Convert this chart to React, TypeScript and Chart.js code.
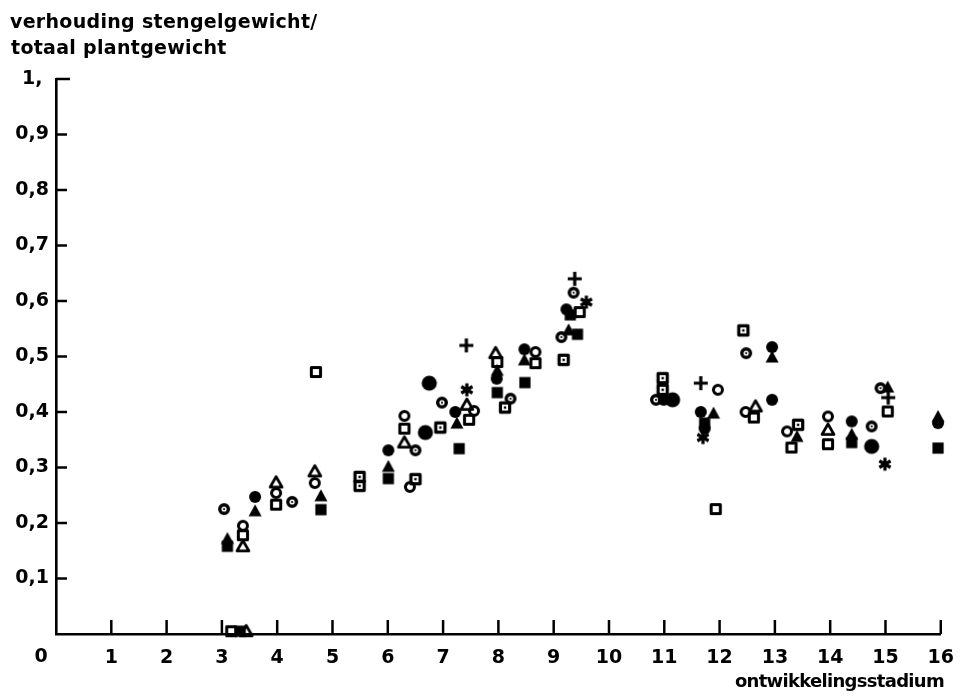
import React, { useEffect, useRef } from "react";
import { Chart, registerables } from "chart.js";

Chart.register(...registerables);

// ---- axis ticks ----
const xTickValues = [0, 1, 2, 3, 4, 5, 6, 7, 8, 9, 10, 11, 12, 13, 14, 15, 16];
const yTickValues = [0.1, 0.2, 0.3, 0.4, 0.5, 0.6, 0.7, 0.8, 0.9, 1.0];
const yTickLabels = ["0,1", "0,2", "0,3", "0,4", "0,5", "0,6", "0,7", "0,8", "0,9", "1, "];
const titleLines = ["verhouding stengelgewicht/", "totaal plantgewicht"];
const xTitle = "ontwikkelingsstadium";

// ---- series (x = ontwikkelingsstadium, y = ratio) ----
const openCircle = [[3.38, 0.195], [3.98, 0.254], [4.68, 0.272], [6.3, 0.393], [6.4, 0.265], [7.56, 0.402], [8.67, 0.508], [11.97, 0.44], [12.47, 0.4], [13.22, 0.365], [13.96, 0.392]];
const dotCircle = [[3.04, 0.225], [4.27, 0.238], [6.5, 0.331], [6.98, 0.417], [8.22, 0.424], [9.36, 0.615], [9.14, 0.535], [10.85, 0.422], [12.48, 0.506], [14.75, 0.374], [14.91, 0.443]];
const filledCircle = [[3.6, 0.247], [6.01, 0.331], [7.22, 0.4], [7.97, 0.46], [8.47, 0.513], [9.23, 0.585], [10.99, 0.422], [11.66, 0.4], [11.73, 0.37], [12.95, 0.517], [12.95, 0.422], [14.39, 0.383], [15.95, 0.38]];
const bigCircle = [[6.75, 0.452], [6.68, 0.363], [11.15, 0.422], [14.75, 0.338]];
const openTriangle = [[3.38, 0.158], [3.98, 0.273], [4.68, 0.293], [6.3, 0.345], [7.43, 0.413], [7.95, 0.506], [12.65, 0.41], [13.96, 0.368], [3.44, 0.005]];
const filledTriangle = [[3.1, 0.172], [3.6, 0.222], [4.79, 0.249], [6.01, 0.302], [7.25, 0.38], [7.98, 0.475], [8.47, 0.494], [9.27, 0.548], [11.89, 0.398], [12.95, 0.499], [13.4, 0.356], [14.39, 0.36], [15.04, 0.445], [15.95, 0.392]];
const openSquare = [[3.38, 0.178], [3.98, 0.233], [4.7, 0.472], [6.3, 0.37], [7.47, 0.386], [7.98, 0.49], [8.67, 0.488], [9.47, 0.58], [11.93, 0.225], [12.62, 0.39], [13.3, 0.336], [13.96, 0.342], [15.04, 0.401], [3.17, 0.005]];
const dotSquare = [[5.49, 0.283], [5.49, 0.267], [6.5, 0.279], [6.95, 0.372], [8.12, 0.408], [9.18, 0.494], [10.97, 0.461], [10.97, 0.44], [12.43, 0.547], [13.42, 0.377]];
const filledSquare = [[3.1, 0.158], [4.79, 0.224], [6.01, 0.28], [7.29, 0.334], [7.98, 0.435], [8.48, 0.453], [9.43, 0.54], [9.3, 0.575], [11.73, 0.38], [14.39, 0.345], [15.95, 0.335], [3.33, 0.005]];
const plusMark = [[7.42, 0.52], [9.38, 0.64], [11.66, 0.452], [15.05, 0.426]];
const starMark = [[7.43, 0.44], [9.59, 0.598], [11.7, 0.354], [14.99, 0.306]];

const FONT = "'DejaVu Sans', sans-serif";

function marker(kind: string): HTMLCanvasElement {
  const size = kind === "bigCircle" ? 20 : 18;
  const c = document.createElement("canvas");
  c.width = size;
  c.height = size;
  const g = c.getContext("2d")!;
  const m = size / 2;
  g.fillStyle = "#000";
  g.strokeStyle = "#000";
  g.lineWidth = 3;
  g.lineJoin = "round";
  g.beginPath();
  switch (kind) {
    case "openCircle":
      g.arc(m, m, 4.5, 0, Math.PI * 2);
      g.stroke();
      break;
    case "dotCircle":
      g.lineWidth = 3.4;
      g.arc(m, m, 4.3, 0, Math.PI * 2);
      g.stroke();
      g.beginPath();
      g.arc(m, m, 1.1, 0, Math.PI * 2);
      g.fill();
      break;
    case "filledCircle":
      g.arc(m, m, 6, 0, Math.PI * 2);
      g.fill();
      break;
    case "bigCircle":
      g.arc(m, m, 7.6, 0, Math.PI * 2);
      g.fill();
      break;
    case "openTriangle":
      g.lineWidth = 2.8;
      g.moveTo(m, m - 5.8);
      g.lineTo(m + 6, m + 4.6);
      g.lineTo(m - 6, m + 4.6);
      g.closePath();
      g.stroke();
      break;
    case "filledTriangle":
      g.moveTo(m, m - 6.6);
      g.lineTo(m + 6.5, m + 5.4);
      g.lineTo(m - 6.5, m + 5.4);
      g.closePath();
      g.fill();
      break;
    case "openSquare":
      g.strokeRect(m - 4.6, m - 4.6, 9.2, 9.2);
      break;
    case "dotSquare":
      g.lineWidth = 3.2;
      g.strokeRect(m - 4.6, m - 4.6, 9.2, 9.2);
      g.fillRect(m - 1.2, m - 1.2, 2.4, 2.4);
      break;
    case "filledSquare":
      g.fillRect(m - 5.6, m - 5.6, 11.2, 11.2);
      break;
    case "plus":
      g.lineWidth = 3.2;
      g.moveTo(m - 7, m);
      g.lineTo(m + 7, m);
      g.moveTo(m, m - 7);
      g.lineTo(m, m + 7);
      g.stroke();
      break;
    case "star":
      g.lineWidth = 3.2;
      for (let i = 0; i < 6; i++) {
        const a = (Math.PI / 3) * i + Math.PI / 2;
        g.moveTo(m, m);
        g.lineTo(m + Math.cos(a) * 6.5, m + Math.sin(a) * 6.5);
      }
      g.stroke();
      g.beginPath();
      g.arc(m, m, 3, 0, Math.PI * 2);
      g.fill();
      break;
  }
  return c;
}

const decorPlugin = {
  id: "decor",
  beforeDatasetsDraw(chart: any) {
    const { ctx, chartArea } = chart;
    const xs = chart.scales.x;
    const ys = chart.scales.y;
    ctx.save();
    ctx.strokeStyle = "#000";
    ctx.lineWidth = 2.5;
    xTickValues.forEach((v) => {
      if (v === 0) return;
      const px = xs.getPixelForValue(v);
      ctx.beginPath();
      ctx.moveTo(px, chartArea.bottom);
      ctx.lineTo(px, chartArea.bottom - 14);
      ctx.stroke();
    });
    yTickValues.forEach((v) => {
      const py = ys.getPixelForValue(v);
      ctx.beginPath();
      ctx.moveTo(chartArea.left, py);
      ctx.lineTo(chartArea.left + (v === 1 ? 14 : 11), py);
      ctx.stroke();
    });
    ctx.restore();
  },
  afterDraw(chart: any) {
    const { ctx } = chart;
    ctx.save();
    ctx.fillStyle = "#000";
    ctx.font = `bold 19px ${FONT}`;
    ctx.textBaseline = "alphabetic";
    ctx.textAlign = "left";
    (ctx as any).letterSpacing = "0.3px";
    ctx.fillText(titleLines[0], 10, 28);
    ctx.fillText(titleLines[1], 11, 54);
    (ctx as any).letterSpacing = "-0.7px";
    ctx.font = `bold 18px ${FONT}`;
    ctx.textAlign = "right";
    ctx.textBaseline = "middle";
    ctx.fillText(xTitle, 944, 682);
    (ctx as any).letterSpacing = "0px";
    ctx.font = `bold 19px ${FONT}`;
    ctx.textAlign = "center";
    ctx.fillText("0", 41, 657);
    ctx.restore();
  },
};

export default function App() {
  const ref = useRef<HTMLCanvasElement | null>(null);

  useEffect(() => {
    if (!ref.current) return;
    const toPts = (arr: number[][]) => arr.map(([x, y]) => ({ x, y }));
    const series: [string, number[][]][] = [
      ["openCircle", openCircle],
      ["dotCircle", dotCircle],
      ["filledCircle", filledCircle],
      ["bigCircle", bigCircle],
      ["openTriangle", openTriangle],
      ["filledTriangle", filledTriangle],
      ["openSquare", openSquare],
      ["dotSquare", dotSquare],
      ["filledSquare", filledSquare],
      ["plus", plusMark],
      ["star", starMark],
    ];
    const datasets = series.map(([kind, arr]) => ({
      label: kind,
      data: toPts(arr),
      pointStyle: marker(kind) as any,
      pointRadius: 6,
      clip: false as any,
      backgroundColor: "#000",
      borderColor: "#000",
    }));

    const chart = new Chart(ref.current, {
      type: "scatter",
      data: { datasets },
      options: {
        responsive: false,
        animation: false,
        devicePixelRatio: 1,
        layout: { padding: { top: 79, right: 21, left: 0, bottom: 0 } },
        plugins: {
          legend: { display: false },
          tooltip: { enabled: false },
          title: { display: false },
        },
        scales: {
          x: {
            type: "linear",
            min: 0,
            max: 16,
            afterFit: (s: any) => {
              s.height = 63;
            },
            afterBuildTicks: (s: any) => {
              s.ticks = xTickValues.map((v) => ({ value: v }));
            },
            ticks: {
              color: "#000",
              font: { family: FONT, size: 19, weight: "bold" },
              padding: 13,
              maxRotation: 0,
              autoSkip: false,
              callback: (v: any) => (Number(v) === 0 ? "" : String(v)),
            },
            grid: { display: false, drawTicks: false },
            border: { display: true, color: "#000", width: 2.6 },
          },
          y: {
            type: "linear",
            min: 0,
            max: 1,
            afterFit: (s: any) => {
              s.width = 56;
            },
            afterBuildTicks: (s: any) => {
              s.ticks = [0, ...yTickValues].map((v) => ({ value: v }));
            },
            ticks: {
              color: "#000",
              font: { family: FONT, size: 19, weight: "bold" },
              padding: 7,
              autoSkip: false,
              callback: (v: any) => {
                const i = Math.round(Number(v) * 10);
                return i === 0 ? "" : yTickLabels[i - 1];
              },
            },
            grid: { display: false, drawTicks: false },
            border: { display: true, color: "#000", width: 2.6 },
          },
        },
      },
      plugins: [decorPlugin],
    });
    return () => chart.destroy();
  }, []);

  return (
    <div style={{ position: "fixed", left: 0, top: 0, width: 967, height: 697, background: "#fff" }}>
      <canvas ref={ref} width={967} height={697} style={{ display: "block" }} />
    </div>
  );
}
